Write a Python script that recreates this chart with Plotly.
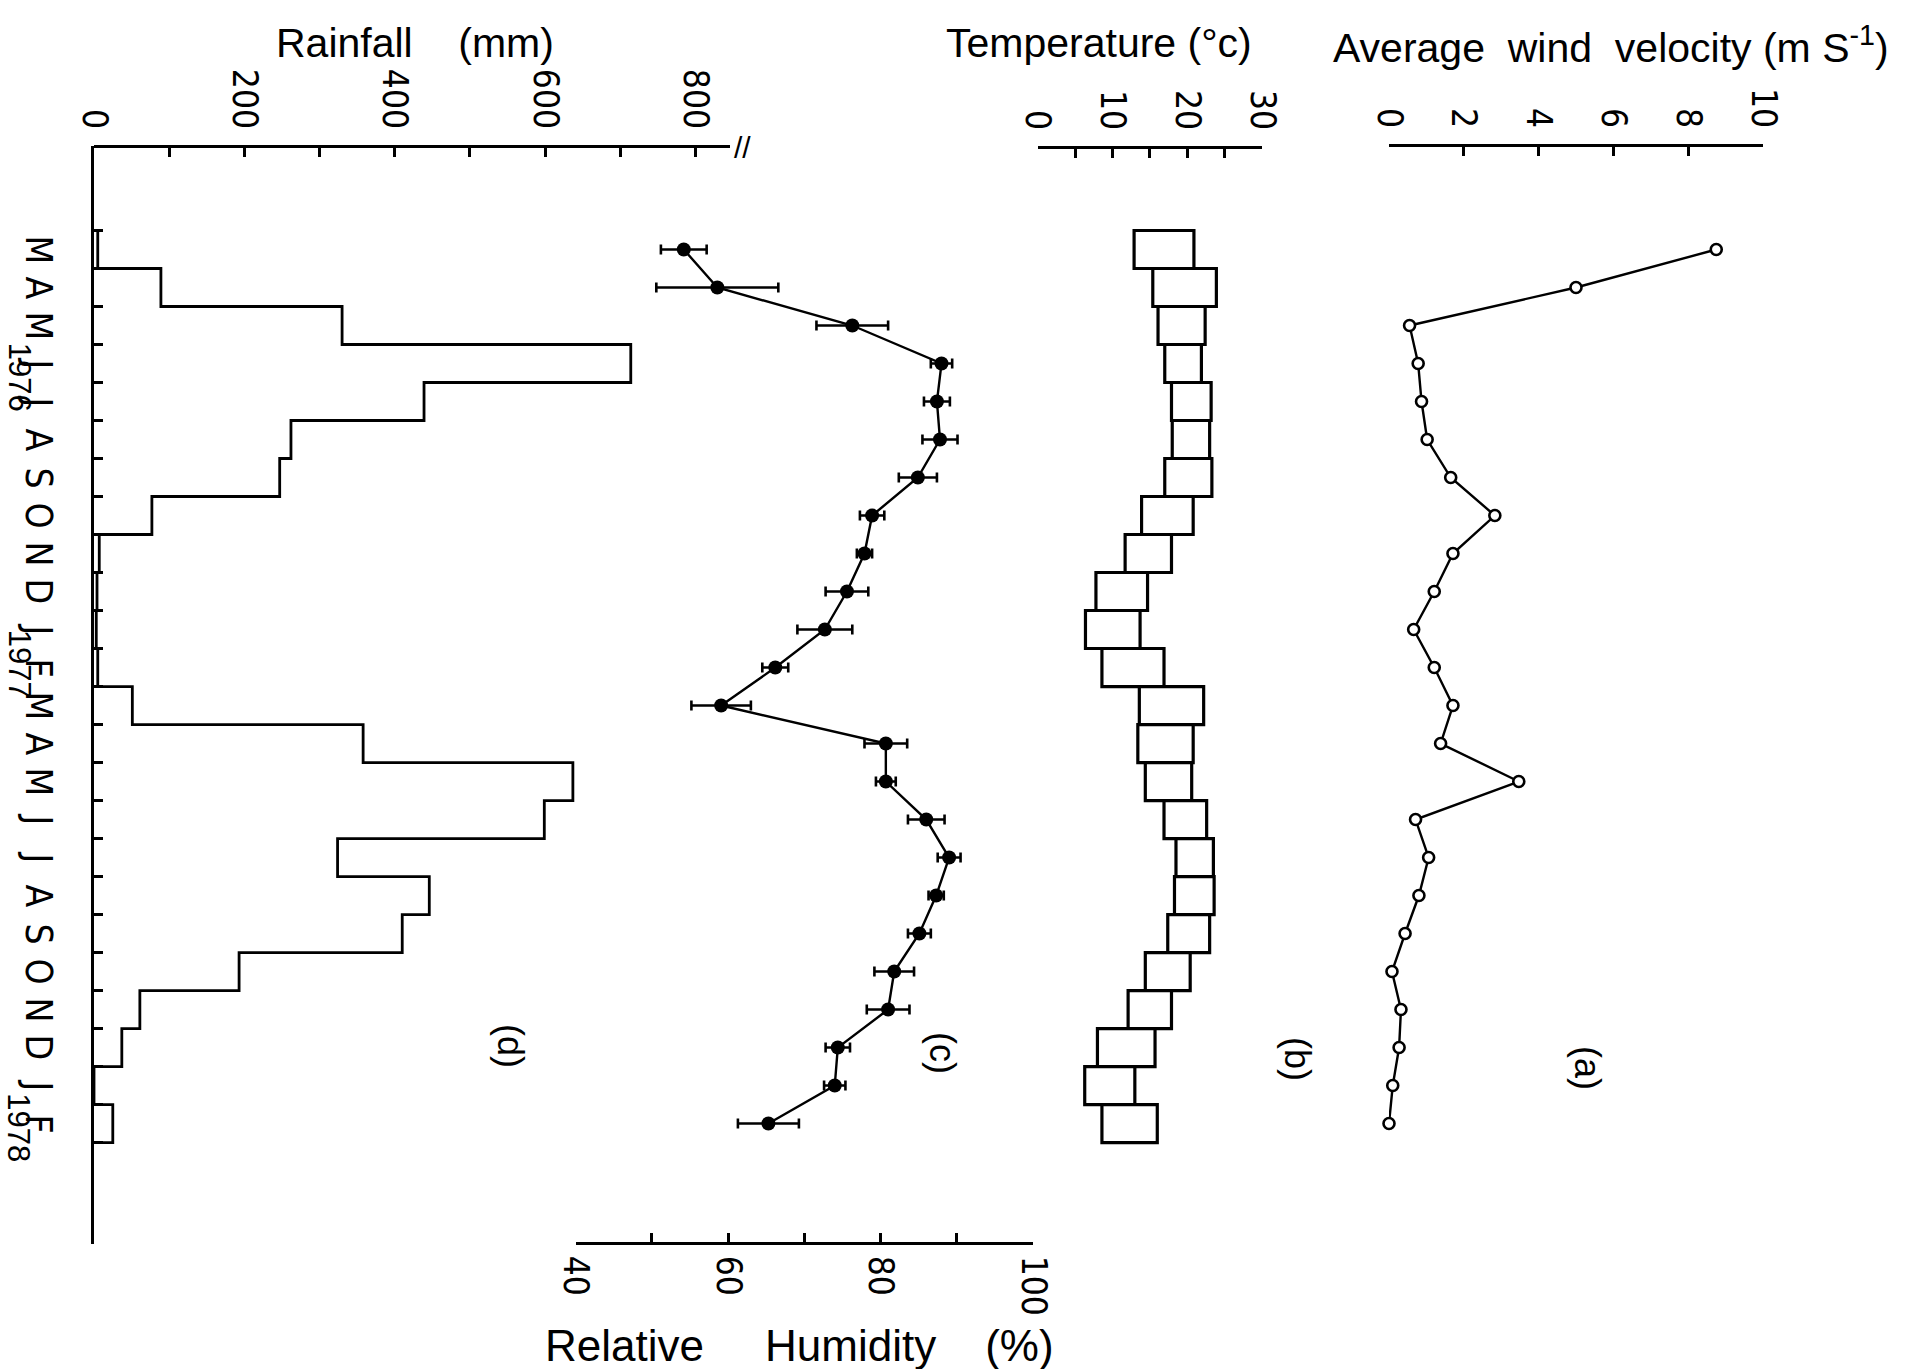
import plotly.graph_objects as go

W, H = 1908, 1369

# ---- data (monthly, March 1976 - February 1978) ----
months = ["M", "A", "M", "J", "J", "A", "S", "O", "N", "D", "J", "F",
          "M", "A", "M", "J", "J", "A", "S", "O", "N", "D", "J", "F"]
years = ["1976", "1977", "1978"]
year_pos = [3.85, 11.4, 23.6]          # position on the month axis

rainfall_mm = [5, 89, 330, 714, 439, 262, 247, 77, 7, 4, 3, 5,
               51, 358, 637, 599, 324, 446, 410, 193, 61, 37, 0, 25]

temp_min = [12.9, 15.4, 16.1, 17.0, 17.9, 18.0, 17.0, 13.9, 11.7, 7.8, 6.4, 8.6,
            13.6, 13.4, 14.4, 16.9, 18.5, 18.3, 17.4, 14.4, 12.1, 8.0, 6.3, 8.6]
temp_max = [20.9, 23.9, 22.4, 21.9, 23.2, 23.0, 23.3, 20.8, 17.9, 14.7, 13.7, 16.9,
            22.2, 20.8, 20.6, 22.6, 23.5, 23.6, 23.0, 20.4, 17.9, 15.7, 13.0, 16.0]

humidity = [54.2, 58.6, 76.3, 88.0, 87.4, 87.8, 84.9, 78.9, 77.9, 75.6, 72.7, 66.2,
            59.1, 80.7, 80.7, 86.0, 89.0, 87.3, 85.1, 81.8, 81.0, 74.4, 74.0, 65.3]
humidity_err = [3.0, 8.0, 4.7, 1.4, 1.7, 2.3, 2.5, 1.6, 1.0, 2.8, 3.6, 1.7,
                3.9, 2.8, 1.3, 2.4, 1.5, 1.0, 1.5, 2.6, 2.8, 1.6, 1.4, 4.0]

wind = [8.75, 5.0, 0.55, 0.78, 0.87, 1.02, 1.65, 2.83, 1.71, 1.21, 0.66, 1.21,
        1.71, 1.38, 3.47, 0.71, 1.06, 0.8, 0.43, 0.08, 0.32, 0.27, 0.1, 0.0]

rain_ticks = [0, 200, 400, 600, 800]
temp_ticks = [0, 10, 20, 30]
hum_ticks = [40, 60, 80, 100]
wind_ticks = [0, 2, 4, 6, 8, 10]

NARROW = "Liberation Sans Narrow, DejaVu Sans Condensed, Liberation Sans, sans-serif"
SANS = "Liberation Sans, DejaVu Sans, sans-serif"
INK = "black"

centers = [i + 0.5 for i in range(len(months))]


def px(v):
    return v / W


def py(v):
    return 1 - v / H


fig = go.Figure()

# (d) rainfall as a stepped outline against the month axis
rx, ry = [0], [0]
for i, r in enumerate(rainfall_mm):
    rx += [r, r]
    ry += [i, i + 1]
rx.append(0)
ry.append(len(rainfall_mm))
fig.add_trace(go.Scatter(x=rx, y=ry, mode="lines", line=dict(color=INK, width=2.8),
                         xaxis="x", yaxis="y", cliponaxis=False, showlegend=False))

# (b) monthly temperature range boxes
fig.add_trace(go.Bar(orientation="h", y=centers,
                     x=[hi - lo for lo, hi in zip(temp_min, temp_max)], base=temp_min,
                     width=1, marker=dict(color="white", line=dict(color=INK, width=3.2)),
                     xaxis="x2", yaxis="y", showlegend=False))

# (c) relative humidity with error bars
fig.add_trace(go.Scatter(x=humidity, y=centers, mode="lines+markers",
                         error_x=dict(type="data", array=humidity_err, color=INK,
                                      thickness=2.6, width=5),
                         marker=dict(color=INK, size=14),
                         line=dict(color=INK, width=2.4),
                         xaxis="x3", yaxis="y", cliponaxis=False, showlegend=False))

# (a) average wind velocity
fig.add_trace(go.Scatter(x=wind, y=centers, mode="lines+markers",
                         marker=dict(color="white", size=11, line=dict(color=INK, width=2.6)),
                         line=dict(color=INK, width=2.4),
                         xaxis="x4", yaxis="y", cliponaxis=False, showlegend=False))

axis_style = dict(showgrid=False, zeroline=False, showline=True, linecolor=INK, linewidth=2.6,
                  ticks="inside", tickcolor=INK, tickwidth=2.6, ticklen=9, tickangle=90,
                  tickfont=dict(family=NARROW, size=35, color=INK), anchor="free",
                  ticklabelstandoff=4, fixedrange=True)
minor_style = dict(ticks="inside", ticklen=9, tickwidth=2.6, tickcolor=INK)

fig.update_layout(
    width=W, height=H,
    margin=dict(l=0, r=0, t=0, b=0, autoexpand=False),
    paper_bgcolor="white", plot_bgcolor="rgba(0,0,0,0)",
    showlegend=False,
    xaxis=dict(domain=[px(94), px(730)], range=[0, 846], side="top", position=py(146),
               tickmode="array", tickvals=rain_ticks,
               minor=dict(dtick=100, **minor_style), **axis_style),
    xaxis2=dict(domain=[px(1037.6), px(1262)], range=[0, 30], side="top", position=py(147),
                tickmode="array", tickvals=temp_ticks,
                minor=dict(dtick=5, **minor_style), **axis_style),
    xaxis3=dict(domain=[px(575.5), px(1033)], range=[40, 100], side="bottom", position=py(1243),
                tickmode="array", tickvals=hum_ticks,
                minor=dict(dtick=10, **minor_style), **axis_style),
    xaxis4=dict(domain=[px(1389), px(1763)], range=[0, 10], side="top", position=py(145),
                tickmode="array", tickvals=wind_ticks, **axis_style),
    yaxis=dict(domain=[py(1244), py(146)], range=[26.67, -2.224], anchor="x", side="left",
               showgrid=False, zeroline=False, showline=True, linecolor=INK, linewidth=2.6,
               ticks="inside", tickcolor=INK, tickwidth=2.6, ticklen=9,
               tickmode="array", tickvals=list(range(len(months) + 1)),
               showticklabels=False, fixedrange=True),
)

ann = []
# month letters and years along the time axis
for m, c in zip(months, centers):
    ann.append(dict(x=px(38), xref="paper", y=c, yref="y", text=m, showarrow=False,
                    xanchor="center", yanchor="middle", textangle=90,
                    font=dict(family=NARROW, size=37, color=INK)))
for yr, p in zip(years, year_pos):
    ann.append(dict(x=px(19), xref="paper", y=p, yref="y", text=yr, showarrow=False,
                    xanchor="center", yanchor="middle", textangle=90,
                    font=dict(family=SANS, size=31, color=INK)))

# axis titles
sp = "\u00a0"
titles = [
    ("Rainfall" + sp * 4 + "(mm)", 415, 43, 41),
    ("Temperature (°c)", 1099, 43, 41),
    ("Average" + sp * 2 + "wind" + sp * 2 + "velocity (m" + sp + "S<sup>-1</sup>)", 1611, 45, 41),
    ("Relative" + sp * 5 + "Humidity" + sp * 4 + "(%)", 799, 1345, 44),
]
for t, x, y, s in titles:
    ann.append(dict(x=px(x), y=py(y), xref="paper", yref="paper", text=t, showarrow=False,
                    xanchor="center", yanchor="middle",
                    font=dict(family=SANS, size=s, color=INK)))

# panel letters
for t, x, y in [("(a)", 1588, 1068), ("(b)", 1298, 1059), ("(c)", 943, 1053), ("(d)", 511, 1046)]:
    ann.append(dict(x=px(x), y=py(y), xref="paper", yref="paper", text=t, showarrow=False,
                    xanchor="center", yanchor="middle", textangle=90,
                    font=dict(family=SANS, size=36, color=INK)))

# axis break on the rainfall scale
ann.append(dict(x=px(742), y=py(147), xref="paper", yref="paper", text="//", showarrow=False,
                xanchor="center", yanchor="middle",
                font=dict(family=SANS, size=30, color=INK)))

fig.update_layout(annotations=ann)
fig.write_html("out.html")
